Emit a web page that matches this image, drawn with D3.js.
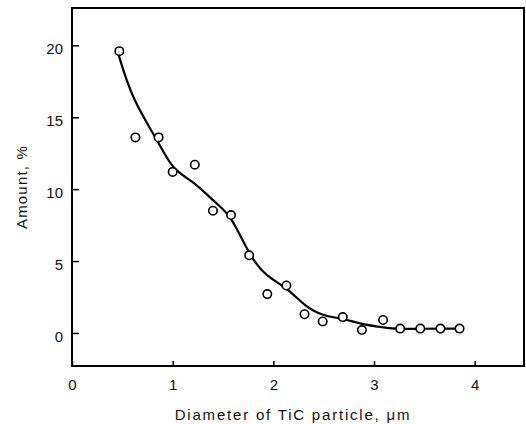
<!DOCTYPE html>
<html>
<head>
<meta charset="utf-8">
<script src="https://cdn.jsdelivr.net/npm/d3@7"></script>
<style>
  body { margin: 0; background: #fff; }
  svg text { font-family: "Liberation Sans", Arial, sans-serif; fill: #111; }
</style>
</head>
<body>
<svg id="chart" width="526" height="424"></svg>
<script>
// measured points (diameter um, amount %)
var diameter = [0.47, 0.63, 0.86, 1.00, 1.22, 1.40, 1.58, 1.76, 1.94, 2.13, 2.31, 2.49, 2.69, 2.88, 3.09, 3.26, 3.46, 3.66, 3.85];
var amount   = [19.6, 13.6, 13.6, 11.2, 11.7, 8.5, 8.2, 5.4, 2.7, 3.3, 1.3, 0.8, 1.1, 0.2, 0.9, 0.3, 0.3, 0.3, 0.3];

// fitted curve drawn through the data
var fitX = [0.46, 0.60, 0.86, 1.00, 1.20, 1.43, 1.58, 1.76, 1.93, 2.13, 2.32, 2.49, 2.69, 2.88, 3.08, 3.26, 3.46, 3.66, 3.85];
var fitY = [19.4, 16.2, 13.3, 11.3, 10.6, 9.0, 8.2, 5.4, 3.9, 3.2, 1.8, 1.2, 1.0, 0.6, 0.4, 0.25, 0.3, 0.3, 0.3];

var xTicks = [0, 1, 2, 3, 4];
var yTicks = [0, 5, 10, 15, 20];

var svg = d3.select("#chart");

var x = d3.scaleLinear().domain([0, 4.49]).range([72, 524]);
var y = d3.scaleLinear().domain([-2.3, 22.6]).range([366, 8]);

// frame
svg.append("rect")
    .attr("x", x(0))
    .attr("y", y(22.6))
    .attr("width", x(4.49) - x(0))
    .attr("height", y(-2.3) - y(22.6))
    .attr("fill", "none")
    .attr("stroke", "#000")
    .attr("stroke-width", 2);

var xAxis = d3.axisBottom(x).tickValues(xTicks).tickFormat(d3.format("d")).tickSize(-5).tickPadding(13);
var yAxis = d3.axisLeft(y).tickValues(yTicks).tickFormat(d3.format("d")).tickSize(-7).tickPadding(9);

var gx = svg.append("g")
    .attr("transform", "translate(0," + y(-2.3) + ")")
    .call(xAxis);
var gy = svg.append("g")
    .attr("transform", "translate(" + x(0) + ",0)")
    .call(yAxis);

[gx, gy].forEach(function (g) {
    g.select(".domain").remove();
    g.selectAll(".tick line").attr("stroke", "#000").attr("stroke-width", 1.5);
    g.selectAll(".tick text").style("font-size", "15px").attr("fill", "#111");
});
gy.selectAll(".tick text").attr("dy", "0.55em");

// fitted line
var line = d3.line()
    .x(function (d, i) { return x(fitX[i]); })
    .y(function (d, i) { return y(fitY[i]); })
    .curve(d3.curveBasis);

svg.append("path")
    .datum(fitX)
    .attr("d", line)
    .attr("fill", "none")
    .attr("stroke", "#000")
    .attr("stroke-width", 2.2);

// data circles
svg.selectAll("circle.pt")
    .data(diameter)
    .join("circle")
    .attr("class", "pt")
    .attr("cx", function (d) { return x(d); })
    .attr("cy", function (d, i) { return y(amount[i]); })
    .attr("r", 4.2)
    .attr("fill", "#fff")
    .attr("stroke", "#000")
    .attr("stroke-width", 1.6);

// axis titles
svg.append("text")
    .attr("x", 293)
    .attr("y", 420)
    .attr("text-anchor", "middle")
    .style("font-size", "15px")
    .style("letter-spacing", "1.8px")
    .text("Diameter of TiC particle, \u03bcm");

svg.append("text")
    .attr("transform", "translate(27,187) rotate(-90)")
    .attr("text-anchor", "middle")
    .style("font-size", "15px")
    .style("letter-spacing", "1.2px")
    .text("Amount, %");
</script>
</body>
</html>
